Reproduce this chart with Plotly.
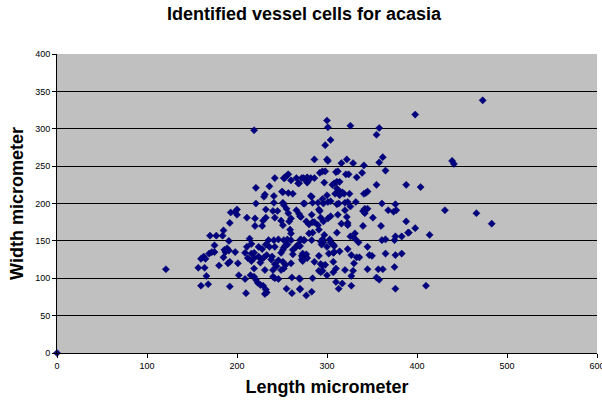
import plotly.graph_objects as go

length_um = [
    0, 121, 160, 168, 157, 164, 166, 160, 163, 165, 169, 172, 175, 175, 170, 177, 184,
    185, 192, 191, 186, 189, 191, 187, 185, 180, 190, 192, 192, 198, 201, 193, 198, 200,
    200, 211, 220, 220, 228, 229, 232, 232, 221, 221, 230, 231, 236, 242, 241, 240, 245,
    242, 251, 257, 262, 252, 255, 257, 260, 266, 269, 272, 251, 252, 255, 257, 249, 251,
    258, 260, 259, 260, 266, 269, 271, 274, 214, 216, 211, 209, 216, 219, 212, 216, 219,
    219, 224, 228, 232, 236, 235, 224, 227, 230, 233, 239, 226, 231, 238, 242, 246, 251,
    254, 240, 244, 249, 252, 241, 242, 246, 252, 256, 260, 252, 251, 249, 254, 256, 262,
    262, 265, 267, 269, 270, 274, 272, 272, 273, 260, 261, 269, 255, 261, 270, 246, 240,
    242, 215, 219, 221, 223, 226, 229, 232, 233, 231, 210, 209, 202, 219, 253, 268, 278,
    278, 250, 241,
    398, 300, 301, 326, 358, 355, 304, 298, 286, 300, 301, 316, 322, 329, 341, 362, 358,
    365, 292, 295, 298, 310, 312, 321, 324, 339, 333, 274, 278, 282, 286, 278, 297, 306,
    308, 311, 314, 355, 388, 404, 311, 314, 317, 319, 314, 325, 309, 345, 343, 341, 282,
    283, 300, 295, 275, 284, 290, 296, 301, 304, 311, 313, 320, 323, 326, 332, 320, 361,
    376, 368, 374, 377, 342, 345, 340, 342, 351, 431, 270, 283, 292, 291, 293, 301, 304,
    312, 322, 323, 323, 316, 340, 360, 388, 398, 391, 414, 277, 280, 284, 286, 290, 296,
    291, 284, 280, 271, 275, 283, 295, 296, 294, 293, 297, 303, 304, 307, 308, 300, 311,
    326, 331, 331, 335, 323, 345, 361, 365, 375, 376, 383, 390, 270, 273, 277, 273, 278,
    286, 291, 293, 295, 298, 291, 293, 295, 302, 307, 308, 314, 307, 300, 307, 310, 320,
    329, 330, 327, 327, 333, 336, 347, 350, 345, 357, 362, 365, 376, 383, 375, 355, 358,
    310, 317, 313, 327, 277, 283, 284, 270, 270, 376, 410, 473, 439, 441, 466, 483,
]

width_um = [
    0, 112, 90, 92, 114, 114, 103, 126, 129, 126, 133, 135, 135, 144, 157, 157, 157,
    164, 174, 150, 138, 140, 137, 135, 128, 117, 120, 122, 89, 135, 120, 188, 189, 192,
    185, 181, 180, 170, 170, 177, 181, 192, 221, 200, 209, 212, 223, 234, 201, 190, 190,
    181, 215, 214, 213, 234, 237, 239, 231, 234, 227, 234, 201, 198, 193, 187, 177, 171,
    176, 180, 165, 160, 191, 186, 182, 200, 153, 146, 142, 134, 133, 134, 127, 123, 127,
    113, 142, 139, 145, 142, 151, 129, 125, 128, 131, 129, 121, 111, 125, 119, 124, 122,
    118, 111, 116, 111, 113, 151, 142, 152, 151, 152, 151, 141, 138, 134, 144, 145, 138,
    132, 141, 144, 144, 151, 151, 130, 125, 128, 120, 101, 100, 86, 80, 86, 99, 102,
    100, 104, 102, 98, 94, 91, 90, 85, 81, 79, 80, 99, 104, 298, 234, 227, 235,
    228, 216, 210,
    319, 311, 302, 304, 301, 292, 285, 278, 259, 259, 257, 254, 259, 254, 251, 262, 255,
    244, 241, 243, 243, 242, 243, 239, 239, 241, 235, 234, 234, 234, 234, 229, 228, 225,
    227, 229, 229, 225, 225, 222, 220, 216, 215, 213, 211, 213, 213, 216, 214, 213, 210,
    209, 211, 206, 200, 201, 201, 200, 202, 203, 199, 200, 201, 202, 196, 202, 191, 200,
    199, 191, 189, 191, 193, 193, 190, 187, 181, 191, 183, 185, 190, 192, 181, 180, 183,
    185, 182, 174, 171, 173, 170, 170, 176, 167, 161, 158, 176, 172, 175, 175, 171, 176,
    165, 161, 160, 152, 151, 151, 152, 148, 145, 149, 158, 152, 148, 145, 143, 142, 161,
    156, 160, 153, 148, 139, 142, 151, 152, 151, 156, 156, 161, 143, 133, 132, 123, 127,
    122, 130, 119, 117, 118, 110, 108, 110, 133, 134, 135, 136, 122, 104, 108, 113, 111,
    110, 120, 103, 131, 128, 128, 131, 130, 112, 112, 112, 133, 131, 133, 115, 101, 98,
    95, 93, 86, 90, 77, 82, 100, 99, 85, 86, 90, 338, 257, 253, 187, 173,
]

fig = go.Figure()
fig.add_trace(go.Scatter(
    x=length_um, y=width_um, mode="markers",
    marker=dict(symbol="diamond", size=5.5, color="#000080",
                line=dict(color="#000066", width=0.5)),
    cliponaxis=False, showlegend=False,
))

font_family = "Arial, Liberation Sans, sans-serif"
fig.update_layout(
    width=602, height=401,
    margin=dict(l=57, r=5, t=54, b=48, autoexpand=False),
    paper_bgcolor="white", plot_bgcolor="#C0C0C0",
    font=dict(family=font_family, color="black"),
    title=dict(text="Identified vessel cells for acasia",
               x=0.505, xanchor="center", y=0.965, yanchor="middle",
               font=dict(size=18, family=font_family, color="black", weight="bold")),
    xaxis=dict(range=[0, 600], tickvals=[0, 100, 200, 300, 400, 500, 600],
               showgrid=False, zeroline=False, showline=True, linecolor="black",
               linewidth=1, ticks="outside", ticklen=4, tickcolor="black",
               tickfont=dict(size=9), mirror=False, ticklabeloverflow="allow",
               automargin=False,
               title=dict(text="<b>Length micrometer</b>", font=dict(size=18), standoff=10)),
    yaxis=dict(range=[0, 400], tickvals=[0, 50, 100, 150, 200, 250, 300, 350, 400],
               showgrid=True, gridcolor="black", gridwidth=1, zeroline=False,
               showline=True, linecolor="black", linewidth=1,
               ticks="outside", ticklen=4, tickcolor="black",
               tickfont=dict(size=9), ticklabeloverflow="allow", automargin=False,
               title=dict(text="<b>Width micrometer</b>", font=dict(size=18), standoff=6)),
)

fig.write_html("out.html")
